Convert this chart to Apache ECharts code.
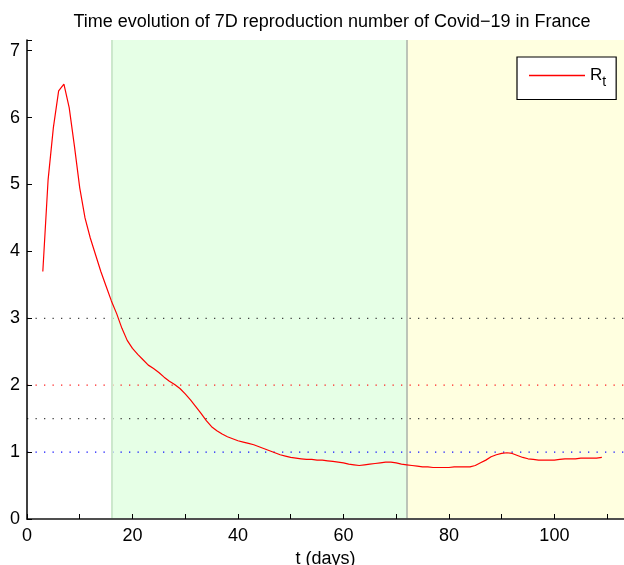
<!DOCTYPE html>
<html><head><meta charset="utf-8">
<script src="https://cdn.jsdelivr.net/npm/echarts@6/dist/echarts.min.js"></script>
<style>html,body{margin:0;padding:0;background:#fff}#c{width:624px;height:565px}</style>
</head><body><div id="c"></div>
<script>
const days = [3,4,5,6,7,8,9,10,11,12,13,14,15,16,17,18,19,20,21,22,23,24,25,26,27,28,29,30,31,32,33,34,35,36,37,38,39,40,41,42,43,44,45,46,47,48,49,50,51,52,53,54,55,56,57,58,59,60,61,62,63,64,65,66,67,68,69,70,71,72,73,74,75,76,77,78,79,80,81,82,83,84,85,86,87,88,89,90,91,92,93,94,95,96,97,98,99,100,101,102,103,104,105,106,107,108,109];
const rt = [3.70,5.07,5.85,6.40,6.50,6.15,5.57,4.95,4.50,4.20,3.95,3.70,3.48,3.26,3.07,2.85,2.67,2.55,2.46,2.38,2.30,2.25,2.19,2.12,2.06,2.01,1.95,1.87,1.78,1.68,1.58,1.47,1.38,1.32,1.27,1.23,1.20,1.17,1.15,1.13,1.11,1.08,1.05,1.02,0.99,0.96,0.94,0.92,0.91,0.90,0.89,0.89,0.88,0.88,0.87,0.86,0.85,0.84,0.82,0.81,0.80,0.81,0.82,0.83,0.84,0.85,0.85,0.84,0.82,0.81,0.80,0.79,0.78,0.78,0.77,0.77,0.77,0.77,0.78,0.78,0.78,0.78,0.80,0.84,0.88,0.93,0.96,0.98,0.99,0.98,0.95,0.92,0.90,0.89,0.88,0.88,0.88,0.88,0.89,0.90,0.90,0.90,0.91,0.91,0.91,0.91,0.92];
const refLevels = [3, 2, 1.5, 1];
const refColors = ['#404040', '#ff2020', '#404040', '#1010ff'];
const phases = [[16, 72], [72, 113.2]];
const phaseColors = ['#e6ffe6', '#ffffe0'];
const xTicks = [0, 20, 40, 60, 80, 100];
const yTicks = [0, 1, 2, 3, 4, 5, 6, 7];

const X_MAX = 113.2, Y_MAX = 7.16;
const font = 'Liberation Sans, Arial, Helvetica, sans-serif';

const series = [];
series.push({
  name: 'phases', type: 'line', data: [], silent: true, z: 1,
  markArea: {
    silent: true,
    data: phases.map((p, i) => [
      { xAxis: p[0], itemStyle: { color: phaseColors[i] } },
      { xAxis: p[1] }
    ])
  },
  markLine: {
    silent: true, symbol: 'none', label: { show: false },
    data: [
      { xAxis: 16, lineStyle: { color: '#cce8cc', width: 2, type: 'solid' } },
      { xAxis: 72, lineStyle: { color: '#a8b0a8', width: 1.5, type: 'solid' } }
    ]
  }
});
refLevels.forEach((lv, i) => {
  series.push({
    name: 'ref' + i, type: 'line', silent: true, z: 2, symbol: 'none',
    data: [[0, lv], [X_MAX, lv]],
    color: refColors[i],
    lineStyle: { color: refColors[i], width: 1.3, type: [1.3, 7.2] }
  });
});
series.push({
  name: 'Rt', type: 'line', z: 5, symbol: 'none',
  data: days.map((d, i) => [d, rt[i]]),
  color: '#ff0000',
  lineStyle: { color: '#ff0000', width: 1.2 },
  itemStyle: { color: '#ff0000' }
});

const chart = echarts.init(document.getElementById('c'), null, { renderer: 'canvas' });
chart.setOption({
  animation: false,
  backgroundColor: '#ffffff',
  title: {
    text: 'Time evolution of 7D reproduction number of Covid\u221219 in France',
    left: 327, top: 8, textAlign: 'center',
    textStyle: { fontFamily: font, fontSize: 18, fontWeight: 'normal', color: '#000' }
  },
  legend: {
    data: ['Rt'],
    icon: 'rect',
    left: 517, top: 57,
    padding: [10, 10, 10, 12],
    itemWidth: 56, itemHeight: 1.3, itemGap: 0,
    itemStyle: { color: '#ff0000', borderWidth: 0, borderColor: '#ff0000', opacity: 1 },
    backgroundColor: '#ffffff', borderColor: '#000', borderWidth: 1.2,
    formatter: () => '{r|R}{s|t}',
    textStyle: {
      color: '#000', fontFamily: font,
      rich: {
        r: { fontSize: 17, fontFamily: font, color: '#000', height: 22, verticalAlign: 'middle' },
        s: { fontSize: 14, fontFamily: font, color: '#000', padding: [14, 0, 0, 0] }
      }
    }
  },
  grid: { left: 27, top: 40, right: 0, bottom: 46, containLabel: false, outerBoundsMode: 'none' },
  xAxis: [{
    type: 'value', min: 0, max: X_MAX, interval: 10, z: 10,
    name: 't (days)', nameLocation: 'middle', nameGap: 29,
    nameTextStyle: { fontFamily: font, fontSize: 18, color: '#000' },
    axisLine: { show: true, onZero: false, lineStyle: { color: '#000', width: 1.5 } },
    axisTick: { show: true, inside: true, length: 5, lineStyle: { color: '#000', width: 1 } },
    axisLabel: {
      margin: 8, fontFamily: font, fontSize: 18, color: '#000',
      formatter: v => xTicks.includes(v) ? String(v) : ''
    },
    splitLine: { show: false }
  }, {
    type: 'value', position: 'top', min: 0, max: X_MAX, z: 10,
    axisLine: { show: true, lineStyle: { color: '#555', width: 1.5 } },
    axisTick: { show: false }, axisLabel: { show: false }, splitLine: { show: false }
  }],
  yAxis: {
    type: 'value', min: 0, max: Y_MAX, interval: 1, z: 10,
    axisLine: { show: true, onZero: false, lineStyle: { color: '#000', width: 1.5 } },
    axisTick: { show: true, inside: true, length: 5, lineStyle: { color: '#000', width: 1 } },
    axisLabel: {
      margin: 7, fontFamily: font, fontSize: 18, color: '#000',
      formatter: v => yTicks.includes(v) ? String(v) : ''
    },
    splitLine: { show: false }
  },
  series: series
});
</script>
</body></html>
